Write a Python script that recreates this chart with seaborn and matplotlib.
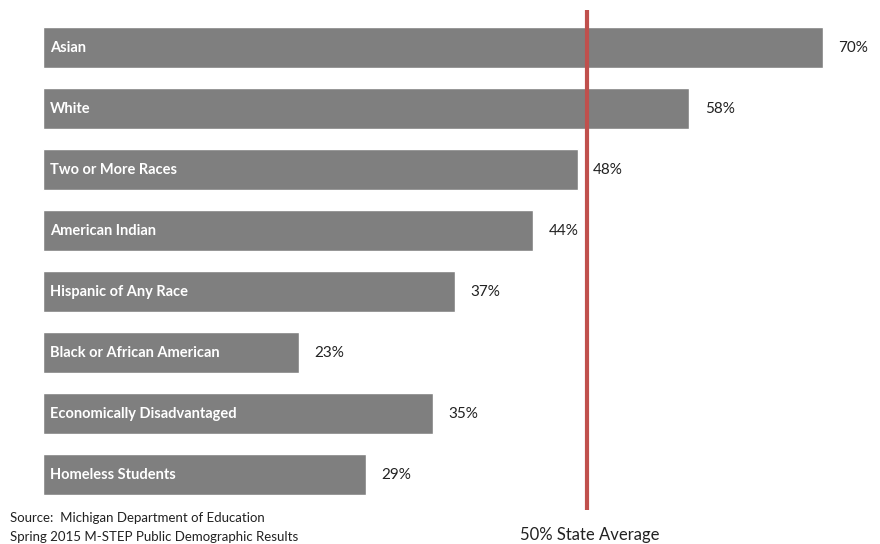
import matplotlib
matplotlib.use('Agg')
import matplotlib.pyplot as plt
import seaborn as sns
import pandas as pd

sns.set_style('white')
plt.rcParams['font.family'] = ['Lato', 'DejaVu Sans']

groups = ['Asian', 'White', 'Two or More Races', 'American Indian',
          'Hispanic of Any Race', 'Black or African American',
          'Economically Disadvantaged', 'Homeless Students']
pct = [70, 58, 48, 44, 37, 23, 35, 29]
state_avg = 48.8  # drawn slightly left of 50 in the original
source_lines = ['Source:  Michigan Department of Education',
                'Spring 2015 M-STEP Public Demographic Results']

df = pd.DataFrame({'group': groups, 'pct': pct})

fig = plt.figure(figsize=(8.8, 5.44), dpi=100)
# axes spans x 43..868 px, y 10..510 px
ax = fig.add_axes([43 / 880, 34 / 544, 827 / 880, 500 / 544])

sns.barplot(data=df, x='pct', y='group', color='#7f7f7f', saturation=1,
            width=0.67, ax=ax, orient='h')

ax.set_xlim(0, 74.2)
ax.set_ylim(7.58, -0.615)
ax.axvline(state_avg, color='#c0504d', lw=3, zorder=5)

for i, (g, v) in enumerate(zip(groups, pct)):
    ax.text(0.6, i, g, color='white', fontsize=10.5, fontweight='bold',
            va='center', ha='left', zorder=6)
    ax.annotate(f'{v}%', xy=(v, i), xytext=(11, 0), textcoords='offset points',
                va='center', ha='left', fontsize=11, color='#222222', zorder=6)

ax.set_xlabel('')
ax.set_ylabel('')
ax.set_xticks([])
ax.set_yticks([])
sns.despine(ax=ax, left=True, bottom=True)

fig.text(10 / 880, 1 - 518 / 544, source_lines[0], fontsize=9.5,
         color='#222222', va='center', ha='left')
fig.text(10 / 880, 1 - 537 / 544, source_lines[1], fontsize=9.5,
         color='#222222', va='center', ha='left')
fig.text(590 / 880, 1 - 535 / 544, '50% State Average', fontsize=12,
         color='#222222', va='center', ha='center')

fig.savefig('out.png', dpi=100)
